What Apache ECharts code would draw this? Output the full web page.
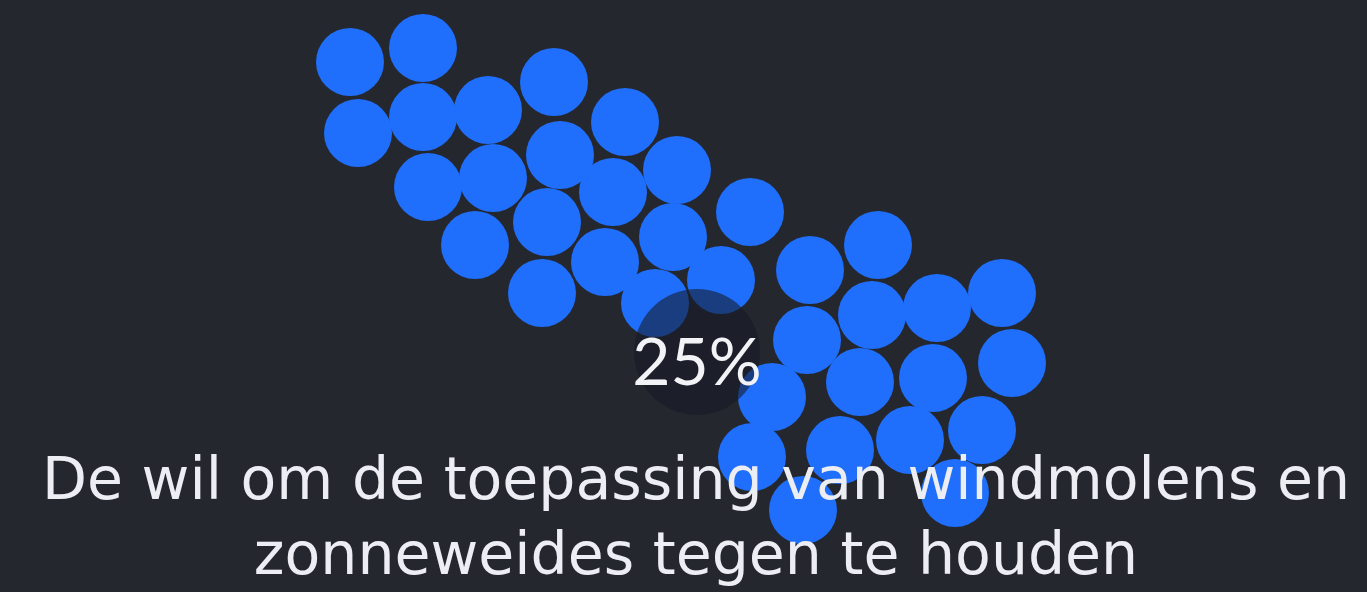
<!DOCTYPE html>
<html>
<head>
<meta charset="utf-8">
<script src="https://cdn.jsdelivr.net/npm/echarts@6/dist/echarts.min.js"></script>
<style>
html,body{margin:0;padding:0;background:#25272f;}
#chart{width:1367px;height:592px;}
</style>
</head>
<body>
<div id="chart"></div>
<script>
// Bubble positions (horizontal / vertical units of the plot)
const bubbleX = [350,423,358,423,488,554,625,428,493,560,613,677,475,547,750,605,673,721,542,655,
                 878,810,872,937,1002,807,860,933,1012,772,752,840,910,982,803,955];
const bubbleY = [62,48,133,117,110,82,122,187,178,155,192,170,245,222,212,262,237,280,293,303,
                 245,270,315,308,293,340,382,378,363,397,457,450,440,430,510,493];
const highlightPoint = [697, 352];
const highlightLabel = '25%';
const titleLines = ['De wil om de toepassing van windmolens en', 'zonneweides tegen te houden'];

const chart = echarts.init(document.getElementById('chart'));
const bubbles = bubbleX.map((x, i) => [x, bubbleY[i]]);

chart.setOption({
  backgroundColor: '#25272f',
  animation: false,
  title: {
    text: titleLines.join('\n'),
    left: 696,
    textAlign: 'center',
    top: 446,
    padding: 0,
    textStyle: {
      color: '#eceef3',
      fontFamily: 'DejaVu Sans',
      fontWeight: 'normal',
      fontSize: 58.5,
      lineHeight: 75
    },
    z: 10
  },
  grid: {left: 0, right: 0, top: 0, bottom: 0},
  xAxis: {type: 'value', min: 0, max: 1367, show: false},
  yAxis: {type: 'value', min: 0, max: 592, inverse: true, show: false},
  series: [
    {
      type: 'scatter',
      data: bubbles,
      symbolSize: 68,
      itemStyle: {color: '#1f6ffc', opacity: 1},
      z: 2
    },
    {
      type: 'scatter',
      data: [highlightPoint],
      symbolSize: 126,
      itemStyle: {color: 'rgba(22,25,38,0.58)', opacity: 1},
      z: 3
    },
    {
      type: 'scatter',
      data: [highlightPoint],
      symbolSize: 0,
      itemStyle: {color: '#f4f5f8', opacity: 1},
      label: {
        show: true,
        formatter: highlightLabel,
        position: 'inside',
        offset: [0, 12],
        color: '#f2f3f6',
        fontFamily: 'Lato',
        fontSize: 66
      },
      z: 4
    }
  ]
});
</script>
</body>
</html>
